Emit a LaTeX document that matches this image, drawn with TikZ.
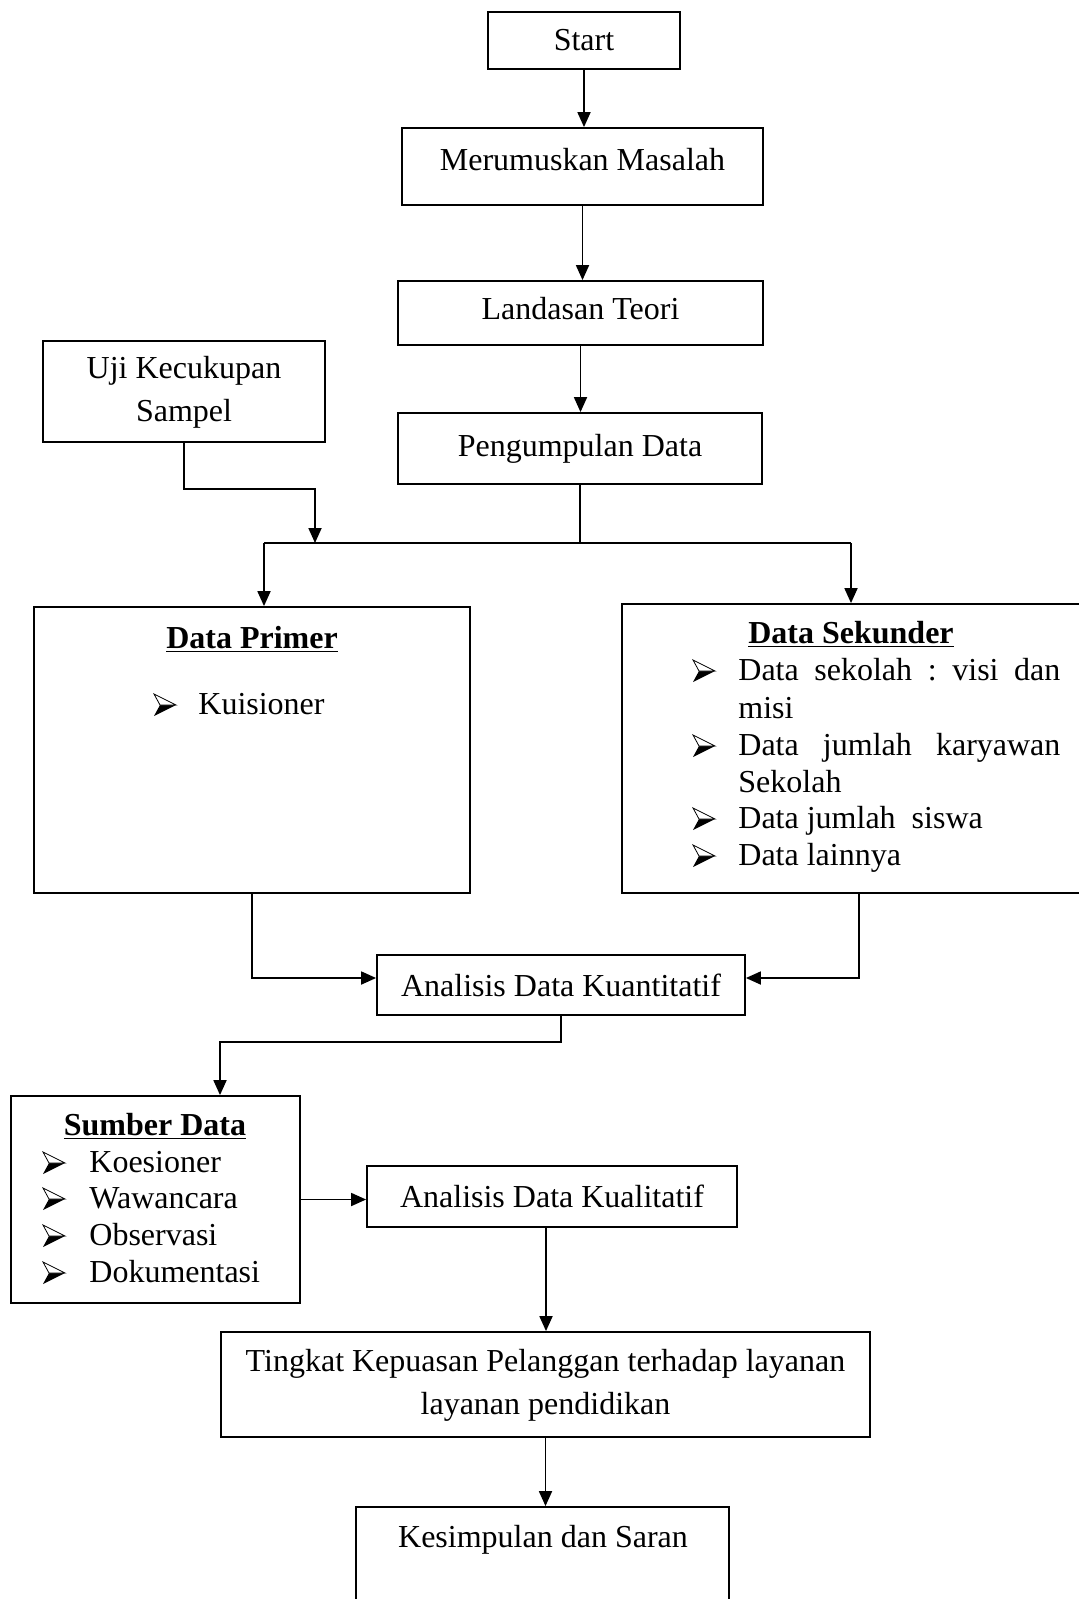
\documentclass[tikz,border=0pt]{standalone}
\usepackage{fontspec}
\setmainfont{Liberation Serif}
\usetikzlibrary{arrows.meta,calc}
\frenchspacing
\tikzset{
  box/.style={draw,line width=0.9pt,inner sep=0pt,align=center,font=\fontsize{16}{21.5}\selectfont},
  txt/.style={inner sep=0pt,font=\fontsize{16}{19}\selectfont},
  conn/.style={line width=0.9pt},
  arr/.style={line width=0.9pt,-{Triangle[length=7.5pt,width=6.5pt]}},
  bulpic/.pic={
    \fill[black] (6,0) -- (22,0) -- (0,11) -- cycle;
    \draw[line width=0.4pt,fill=white,line join=miter] (0,-11) -- (22,0) -- (6,0) -- cycle;
  }
}
\begin{document}
\begin{tikzpicture}[x=0.5pt,y=-0.5pt]
\useasboundingbox (0,0) rectangle (1079,1599);
\fill[white] (0,0) rectangle (1079,1599);
\clip (0,0) rectangle (1079,1599);
% boxes
\node[box,minimum width=96pt,minimum height=28.5pt] (start) at (584,40.5) {\raisebox{-5pt}{Start}};
\node[box,minimum width=180.5pt,minimum height=38.5pt] (merum) at (582.5,166.5) {\raisebox{7.5pt}{Merumuskan Masalah}};
\node[box,minimum width=182.5pt,minimum height=32pt] (land) at (580.5,313) {\raisebox{5pt}{Landasan Teori}};
\node[box,minimum width=141pt,minimum height=50.5pt] (uji) at (184,391.5) {\raisebox{-4pt}{\begin{tabular}{@{}c@{}}Uji Kecukupan\\Sampel\end{tabular}}};
\node[box,minimum width=182pt,minimum height=35.5pt] (peng) at (580,448.5) {\raisebox{3.5pt}{Pengumpulan Data}};
\node[box,minimum width=218pt,minimum height=143pt] (primer) at (252,750) {};
\node[box,minimum width=237pt,minimum height=144.5pt] (sekunder) at (859,748.5) {};
\node[box,minimum width=184pt,minimum height=30pt] (kuant) at (561,985) {Analisis Data Kuantitatif};
\node[box,minimum width=144.5pt,minimum height=103.5pt] (sumber) at (155.5,1199.5) {};
\node[box,minimum width=185pt,minimum height=30.5pt] (kual) at (552,1196.5) {Analisis Data Kualitatif};
\node[box,minimum width=324.5pt,minimum height=52.5pt] (tingkat) at (545.5,1384.5) {\raisebox{-3pt}{\begin{tabular}{@{}c@{}}Tingkat Kepuasan Pelanggan terhadap layanan\\layanan pendidikan\end{tabular}}};
\node[box,minimum width=186.5pt,minimum height=66.5pt] (kesim) at (542.5,1573.5) {};
% texts inside boxes
\node[txt,anchor=base] (kesimT) at (543,1547) {Kesimpulan dan Saran};
\node[txt,anchor=base] (primT) at (252,648) {\underline{\textbf{Data Primer}}};
\pic at (154,705) {bulpic};
\node[txt,anchor=base west] (pt1) at (198,714) {Kuisioner};
\node[txt,anchor=base] (sekT) at (851,643) {\underline{\textbf{Data Sekunder}}};
\pic at (693,671) {bulpic};
\node[txt,anchor=base west] (st1) at (738,680) {\makebox[161pt][s]{Data sekolah : visi dan}};
\node[txt,anchor=base west] (st1b) at (738,718) {misi};
\pic at (693,746) {bulpic};
\node[txt,anchor=base west] (st2) at (738,755) {\makebox[161pt][s]{Data jumlah karyawan}};
\node[txt,anchor=base west] (st2b) at (738,792) {Sekolah};
\pic at (693,819) {bulpic};
\node[txt,anchor=base west] (st3) at (738,828) {Data jumlah\ \ siswa};
\pic at (693,856) {bulpic};
\node[txt,anchor=base west] (st4) at (738,865) {Data lainnya};
\node[txt,anchor=base] (sumT) at (155,1135) {\underline{\textbf{Sumber Data}}};
\pic at (43,1163) {bulpic};
\node[txt,anchor=base west] (ut1) at (89,1172) {Koesioner};
\pic at (43,1199) {bulpic};
\node[txt,anchor=base west] (ut2) at (89,1208) {Wawancara};
\pic at (43,1236) {bulpic};
\node[txt,anchor=base west] (ut3) at (89,1245) {Observasi};
\pic at (43,1273) {bulpic};
\node[txt,anchor=base west] (ut4) at (89,1282) {Dokumentasi};
% connectors
\coordinate (barL) at (264,543);
\coordinate (barR) at (851,543);
\coordinate (ujiIn) at (315,543);
\draw[arr] (start.south) -- (start.south |- merum.north);
\draw[arr] (merum.south) -- (merum.south |- land.north);
\draw[arr] (land.south) -- (land.south |- peng.north);
\draw[conn] (peng.south) -- (peng.south |- barL);
\draw[conn] (barL) -- (barR);
\draw[arr] (uji.south) -- ++(0,46) -| (ujiIn);
\draw[arr] (barL) -- (barL |- primer.north);
\draw[arr] (barR) -- (barR |- sekunder.north);
\draw[arr] (primer.south) |- ([yshift=3.5pt]kuant.west);
\draw[arr] (sekunder.south) |- ([yshift=3.5pt]kuant.east);
\draw[arr] (kuant.south) -- ++(0,26) -| ([xshift=32.25pt]sumber.north);
\draw[arr] (sumber.east) -- (sumber.east -| kual.west);
\draw[arr] ([xshift=-3pt]kual.south) -- ([xshift=-3pt]kual.south |- tingkat.north);
\draw[arr] (tingkat.south) -- (tingkat.south |- kesim.north);
\end{tikzpicture}
\end{document}
